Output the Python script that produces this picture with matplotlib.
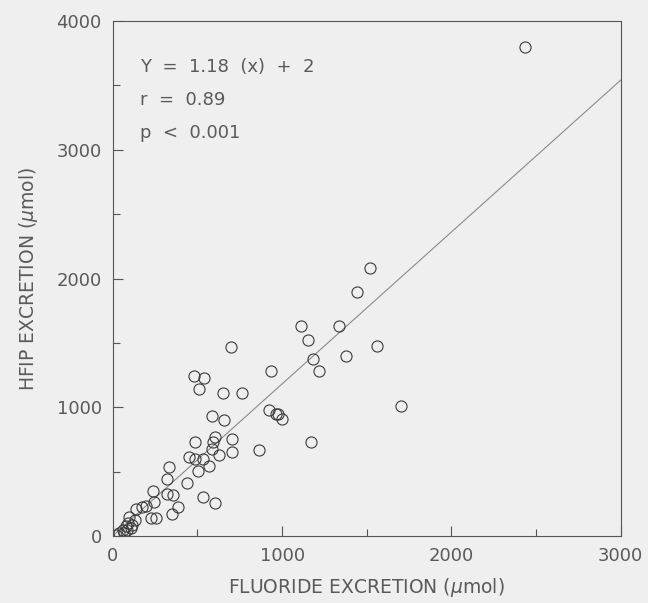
import numpy as np
import matplotlib.pyplot as plt
from matplotlib.ticker import MultipleLocator

# fluoride excretion (umol) vs HFIP excretion (umol)
fluoride = [2436, 1521, 1443, 1112, 1338, 1153, 1560, 698, 1182, 1377,
            937, 1217, 477, 538, 508, 652, 762, 1701, 589, 654,
            920, 963, 973, 1000, 594, 601, 589, 486, 706, 1168,
            864, 706, 625, 448, 484, 533, 567, 503, 333, 319,
            438, 236, 321, 353, 246, 195, 173, 139, 530, 601,
            384, 350, 224, 253, 95, 129, 112, 78, 58, 36,
            22, 68, 85, 105, 92]
hfip = [3801, 2079, 1897, 1630, 1630, 1526, 1478, 1469, 1377, 1401,
        1279, 1279, 1240, 1225, 1145, 1115, 1115, 1014, 931, 898,
        981, 952, 952, 913, 729, 767, 675, 729, 752, 729,
        669, 654, 630, 616, 601, 601, 544, 506, 538, 440,
        413, 348, 327, 318, 268, 235, 223, 208, 306, 253,
        223, 172, 143, 143, 149, 128, 89, 80, 45, 21,
        6, 21, 45, 60, 104]

slope, intercept = 1.18, 2
stats_lines = ["Y  =  1.18  (x)  +  2", "r  =  0.89", "p  <  0.001"]

paper = '#efefef'
ink = '#5a5a5a'

fig = plt.figure(figsize=(6.48, 6.03), dpi=100, facecolor=paper)
ax = fig.add_axes([0.174, 0.111, 0.784, 0.854], facecolor=paper)

xs = np.array([0, 3000])
ax.plot(xs, slope * xs + intercept, color='#8a8a8a', lw=0.8)
ax.plot(fluoride, hfip, 'o', ms=8, mfc='none', mec='#3a3a3a', mew=0.8)

ax.set_xlim(0, 3000)
ax.set_ylim(0, 4000)
ax.xaxis.set_major_locator(MultipleLocator(1000))
ax.xaxis.set_minor_locator(MultipleLocator(500))
ax.yaxis.set_major_locator(MultipleLocator(1000))
ax.yaxis.set_minor_locator(MultipleLocator(500))
ax.tick_params(which='both', direction='in', color='#555555', width=0.8,
               labelsize=13, labelcolor=ink)
ax.tick_params(which='major', length=7, pad=8)
ax.tick_params(which='minor', length=5)
for s in ax.spines.values():
    s.set_color('#555555')
    s.set_linewidth(0.8)

ax.set_xlabel('FLUORIDE EXCRETION ($\\mu$mol)', fontsize=13.5, color=ink, labelpad=8)
ax.set_ylabel('HFIP EXCRETION ($\\mu$mol)', fontsize=13.5, color=ink, labelpad=12)

for i, t in enumerate(stats_lines):
    ax.text(0.053, 0.911 - i * 0.064, t, transform=ax.transAxes,
            fontsize=13, color=ink, va='center', ha='left')

fig.savefig('out.png', dpi=100, facecolor=paper)
